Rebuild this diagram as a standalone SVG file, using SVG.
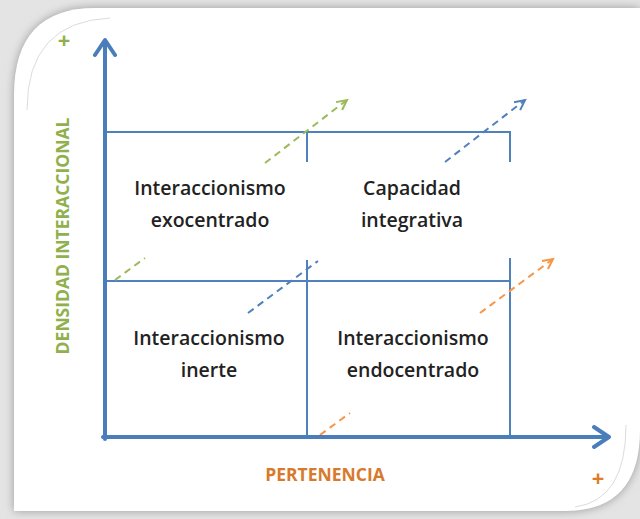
<svg xmlns="http://www.w3.org/2000/svg" width="640" height="519" viewBox="0 0 640 519">
<defs>
<filter id="sh" x="-10%" y="-10%" width="120%" height="120%"><feGaussianBlur stdDeviation="5"/></filter>
<marker id="ag" markerUnits="userSpaceOnUse" markerWidth="14" markerHeight="14" refX="11" refY="6" orient="auto" viewBox="0 0 14 12"><path d="M1,1 L11,6 L1,11" fill="none" stroke="#9bbb59" stroke-width="2"/></marker>
<marker id="ab" markerUnits="userSpaceOnUse" markerWidth="14" markerHeight="14" refX="11" refY="6" orient="auto" viewBox="0 0 14 12"><path d="M1,1 L11,6 L1,11" fill="none" stroke="#4f81bd" stroke-width="2"/></marker>
<marker id="ao" markerUnits="userSpaceOnUse" markerWidth="14" markerHeight="14" refX="11" refY="6" orient="auto" viewBox="0 0 14 12"><path d="M1,1 L11,6 L1,11" fill="none" stroke="#f79646" stroke-width="2"/></marker>
</defs>
<style>
.cell{font-family:"Open Sans","Liberation Sans",sans-serif;font-weight:600;font-size:19.5px;fill:#222222;text-anchor:middle}
.axis{stroke:#4a7ebb;stroke-width:4;fill:none;stroke-linecap:round;stroke-linejoin:round}
.grid{stroke:#4f81bd;stroke-width:2;fill:none}
.d{stroke-width:2;stroke-dasharray:7 5;fill:none}
.lab{font-family:"Open Sans","Liberation Sans",sans-serif;font-weight:700;font-size:17.5px}
.plus{font-family:"Open Sans","Liberation Sans",sans-serif;font-weight:700;font-size:22px;text-anchor:middle}
</style>
<rect width="640" height="519" fill="#e4e4e4"/>
<path d="M14,95 Q14,8 95,8 L640,8 L640,430 Q640,511 565,511 L14,511 Z" fill="#9a9a9a" filter="url(#sh)"/>
<path d="M14,95 Q14,8 95,8 L640,8 L640,430 Q640,511 565,511 L14,511 Z" fill="#ffffff"/>
<path d="M27,110 Q27,22 110,18" fill="none" stroke="#dcdcdc" stroke-width="1"/>
<path d="M626,425 Q626,500 575,507" fill="none" stroke="#dcdcdc" stroke-width="1"/>

<g id="connectors">
<path class="grid" d="M105,132 H511 M105,281 H511 M307,132 V162 M307,260 V437 M510,132 V162 M510,258 V437"/>
<path class="d" stroke="#9bbb59" d="M115,280 L145,258"/>
<path class="d" stroke="#9bbb59" d="M265,163 L347,100" marker-end="url(#ag)"/>
<path class="d" stroke="#4f81bd" d="M248,313 L318,261"/>
<path class="d" stroke="#4f81bd" d="M445,162 L525,100" marker-end="url(#ab)"/>
<path class="d" stroke="#f79646" d="M320,435 L350,413"/>
<path class="d" stroke="#f79646" d="M480,313 L553,259" marker-end="url(#ao)"/>
<path class="axis" d="M105,439 V42 M95,55 L105,40 L115,55"/>
<path class="axis" d="M103,437 H608 M594,427 L609,437 L594,447"/>
</g>

<g id="q-exocentrado"><text class="cell" x="210" y="195">Interaccionismo</text><text class="cell" x="210" y="227">exocentrado</text></g>
<g id="q-capacidad"><text class="cell" x="412" y="195">Capacidad</text><text class="cell" x="412" y="227">integrativa</text></g>
<g id="q-inerte"><text class="cell" x="209" y="345">Interaccionismo</text><text class="cell" x="209" y="377">inerte</text></g>
<g id="q-endocentrado"><text class="cell" x="413" y="345">Interaccionismo</text><text class="cell" x="413" y="377">endocentrado</text></g>

<g id="axis-labels">
<text class="lab" x="325" y="481" fill="#d87a2c" text-anchor="middle">PERTENENCIA</text>
<text class="plus" x="598" y="486" fill="#e07b2a">+</text>
<text class="plus" x="64" y="48" fill="#8fb04c">+</text>
<text class="lab" transform="translate(69,236) rotate(-90)" fill="#8fb04c" text-anchor="middle">DENSIDAD INTERACCIONAL</text>
</g>
</svg>
